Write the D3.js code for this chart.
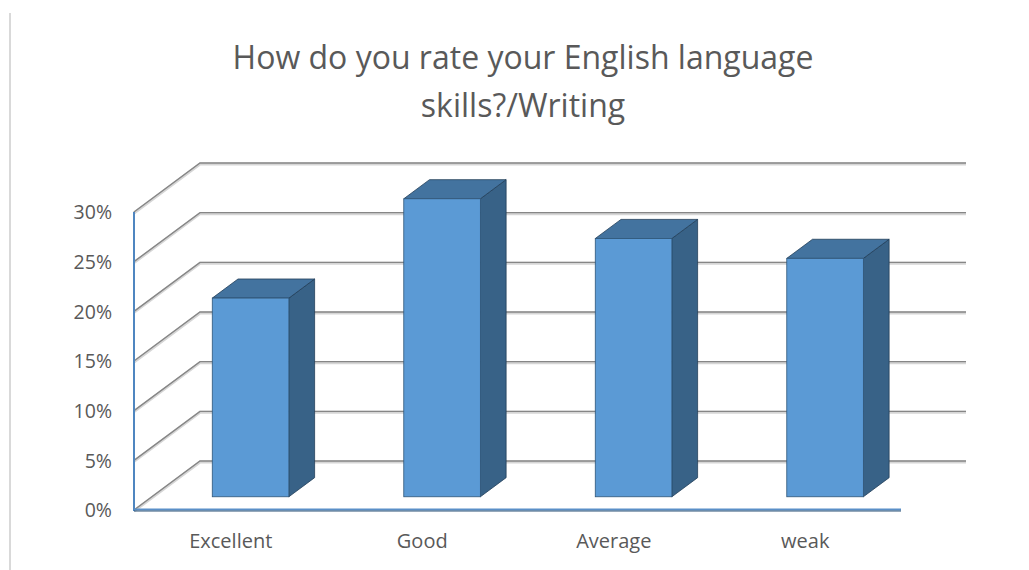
<!DOCTYPE html>
<html>
<head>
<meta charset="utf-8">
<script src="https://cdn.jsdelivr.net/npm/d3@7"></script>
<style>
  html, body { margin: 0; padding: 0; background: #ffffff; }
  svg { display: block; }
  text { font-family: "Open Sans", "Liberation Sans", sans-serif; fill: #595959; }
</style>
</head>
<body>
<script>
// Survey results: self-rated English writing skills
const categories = ["Excellent", "Good", "Average", "weak"];
const shares = [0.20, 0.30, 0.26, 0.24];
const tickValues = [0, 0.05, 0.10, 0.15, 0.20, 0.25, 0.30];
const titleLines = ["How do you rate your English language", "skills?/Writing"];

const W = 1029, H = 570;
const svg = d3.select("body").append("svg").attr("width", W).attr("height", H);

// Front plane of the plot and the oblique depth offset of the back wall
const front = { left: 134, right: 900, bottom: 510, top: 212 };
const depth = { dx: 66, dy: -49 };
const barDepth = { z0: 0.27, z1: 0.66 };

const x = d3.scaleBand().domain(categories)
  .range([front.left, front.right]).paddingInner(0.6).paddingOuter(0.3);
const y = d3.scaleLinear().domain([0, 0.30]).range([front.bottom, front.top]);
const xCat = d3.scaleBand().domain(categories).range([front.left, front.right]);

// Panel border on the left
svg.append("line").attr("x1", 10).attr("x2", 10).attr("y1", 13).attr("y2", H)
  .attr("stroke", "#d9d9d9").attr("stroke-width", 2);

// Title
const title = svg.append("text").attr("text-anchor", "middle").style("font-size", "32px");
titleLines.forEach((t, i) => {
  title.append("tspan").attr("x", 523).attr("y", 69 + i * 48).text(t);
});

// Gridlines: diagonal on the side wall plus the horizontal on the back wall
const grid = svg.append("g");
tickValues.forEach(v => {
  const yf = y(v);
  const pts = [[front.left, yf], [front.left + depth.dx, yf + depth.dy], [front.right + depth.dx, yf + depth.dy]];
  const line = d3.line();
  grid.append("path").attr("d", line(pts.map(p => [p[0], p[1] + 1])))
    .attr("fill", "none").attr("stroke", "#d6d6d6").attr("stroke-width", 3);
  grid.append("path").attr("d", line(pts))
    .attr("fill", "none").attr("stroke", "#868686").attr("stroke-width", 1.4);
});

// Value axis line
svg.append("line").attr("x1", front.left).attr("x2", front.left)
  .attr("y1", y(0.30)).attr("y2", y(0) + 1)
  .attr("stroke", "#4f86c0").attr("stroke-width", 2);

// Category axis (front edge of the floor)
svg.append("line").attr("x1", front.left).attr("x2", front.right + 1)
  .attr("y1", front.bottom - 0.5).attr("y2", front.bottom - 0.5)
  .attr("stroke", "#5a8fc8").attr("stroke-width", 2);
svg.append("line").attr("x1", front.left).attr("x2", front.right + 1)
  .attr("y1", front.bottom + 1).attr("y2", front.bottom + 1)
  .attr("stroke", "#2d5276").attr("stroke-width", 1);

// Tick labels
const yAxis = d3.axisLeft(y).tickValues(tickValues).tickFormat(d3.format(".0%")).tickSize(0).tickPadding(0);
const ya = svg.append("g").attr("transform", `translate(112,0)`).call(yAxis);
ya.select(".domain").remove();
ya.selectAll("text").attr("fill", "#595959").style("font-size", "19.5px")
  .style("font-family", "'Open Sans', sans-serif").attr("dy", "0.35em");

// Category labels
const xAxis = d3.axisBottom(xCat).tickSize(0).tickPadding(0);
const xa = svg.append("g").attr("transform", `translate(1,${front.bottom + 38})`).call(xAxis);
xa.select(".domain").remove();
xa.selectAll("text").attr("fill", "#595959").attr("dy", 0).style("font-size", "20px")
  .style("font-family", "'Open Sans', sans-serif");

// 3D bars: front face, right side face, top face
const ox0 = depth.dx * barDepth.z0 + 3, oy0 = depth.dy * barDepth.z0;
const bdx = depth.dx * (barDepth.z1 - barDepth.z0), bdy = depth.dy * (barDepth.z1 - barDepth.z0);
const bars = svg.append("g").selectAll("g").data(categories.map((c, i) => ({ c, v: shares[i] })))
  .join("g");

bars.each(function (d) {
  const g = d3.select(this);
  const x0 = x(d.c) + ox0, x1 = x0 + x.bandwidth();
  const yb = y(0) + oy0, yt = y(d.v) + oy0;
  const poly = pts => pts.map(p => p.join(",")).join(" ");
  g.append("polygon")
    .attr("points", poly([[x1, yt], [x1 + bdx, yt + bdy], [x1 + bdx, yb + bdy], [x1, yb]]))
    .attr("fill", "#386287").attr("stroke", "#223f59").attr("stroke-width", 0.8);
  g.append("polygon")
    .attr("points", poly([[x0, yt], [x0 + bdx, yt + bdy], [x1 + bdx, yt + bdy], [x1, yt]]))
    .attr("fill", "#43739f").attr("stroke", "#223f59").attr("stroke-width", 0.8);
  g.append("rect").attr("x", x0).attr("y", yt).attr("width", x1 - x0).attr("height", yb - yt)
    .attr("fill", "#5b9ad5").attr("stroke", "#2f5679").attr("stroke-width", 0.8);
});
</script>
</body>
</html>
